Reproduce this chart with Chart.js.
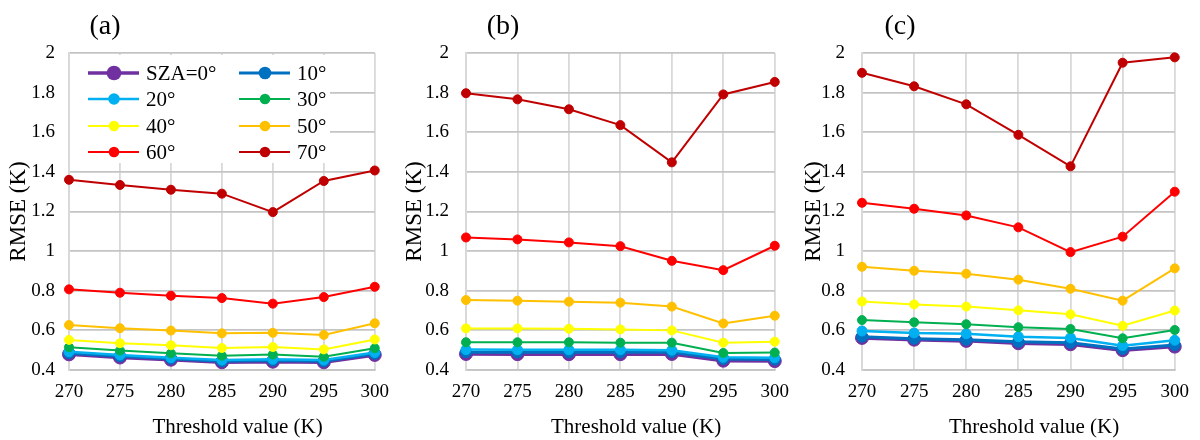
<!DOCTYPE html>
<html>
<head>
<meta charset="utf-8">
<script src="https://cdn.jsdelivr.net/npm/chart.js@4.4.0/dist/chart.umd.min.js"></script>
<style>
  body { margin: 0; background: #fff; }
  #wrap { display: flex; width: 1200px; height: 440px; }
  canvas { display: block; }
</style>
</head>
<body>
<div id="wrap">
  <canvas id="chartA" width="400" height="440"></canvas>
  <canvas id="chartB" width="400" height="440"></canvas>
  <canvas id="chartC" width="400" height="440"></canvas>
</div>
<script>
const thresholds = ['270', '275', '280', '285', '290', '295', '300'];
const szaLabels = ['SZA=0°', '10°', '20°', '30°', '40°', '50°', '60°', '70°'];
const szaColors = ['#7030A0', '#0070C0', '#00B0F0', '#00B050', '#FFFF00', '#FFC000', '#FF0000', '#C00000'];
const yTicks = [0.4, 0.6, 0.8, 1, 1.2, 1.4, 1.6, 1.8, 2];

// panel (a)
const a0 = [0.479, 0.463, 0.452, 0.439, 0.442, 0.439, 0.476];
const a10 = [0.485, 0.469, 0.457, 0.444, 0.448, 0.444, 0.482];
const a20 = [0.492, 0.476, 0.462, 0.450, 0.454, 0.450, 0.488];
const a30 = [0.515, 0.498, 0.484, 0.472, 0.478, 0.467, 0.510];
const a40 = [0.552, 0.535, 0.525, 0.511, 0.516, 0.504, 0.554];
const a50 = [0.627, 0.611, 0.599, 0.585, 0.588, 0.577, 0.636];
const a60 = [0.807, 0.790, 0.775, 0.763, 0.735, 0.768, 0.820];
const a70 = [1.360, 1.334, 1.310, 1.290, 1.197, 1.354, 1.407];

// panel (b)
const b0 = [0.481, 0.480, 0.480, 0.480, 0.481, 0.447, 0.445];
const b10 = [0.490, 0.489, 0.489, 0.489, 0.490, 0.455, 0.453];
const b20 = [0.503, 0.502, 0.502, 0.502, 0.500, 0.464, 0.462];
const b30 = [0.540, 0.540, 0.540, 0.538, 0.538, 0.486, 0.488];
const b40 = [0.610, 0.610, 0.608, 0.605, 0.600, 0.538, 0.543];
const b50 = [0.753, 0.750, 0.745, 0.740, 0.720, 0.635, 0.674];
const b60 = [1.069, 1.059, 1.044, 1.025, 0.951, 0.904, 1.027];
const b70 = [1.797, 1.766, 1.716, 1.636, 1.448, 1.791, 1.854];

// panel (c)
const c0 = [0.562, 0.553, 0.547, 0.535, 0.530, 0.500, 0.518];
const c10 = [0.568, 0.558, 0.553, 0.542, 0.537, 0.506, 0.526];
const c20 = [0.597, 0.587, 0.583, 0.568, 0.562, 0.523, 0.550];
const c30 = [0.652, 0.641, 0.631, 0.616, 0.607, 0.560, 0.602];
const c40 = [0.746, 0.731, 0.720, 0.701, 0.681, 0.623, 0.700];
const c50 = [0.921, 0.901, 0.886, 0.856, 0.810, 0.750, 0.913];
const c60 = [1.244, 1.214, 1.180, 1.120, 0.995, 1.073, 1.300];
const c70 = [1.900, 1.832, 1.741, 1.587, 1.428, 1.951, 1.978];

const pointSizes = [6.5, 5.5, 5, 4.5, 4.5, 4.5, 4.5, 4.5];
const lineSizes = [3.5, 3, 2.5, 2, 2, 2, 2, 2];
const serif = '"Liberation Serif", "Times New Roman", serif';

function panelTitlePlugin(text, dx) {
  return {
    id: 'panelTitle',
    afterDraw(chart) {
      const ctx = chart.ctx;
      ctx.save();
      ctx.font = '28px ' + serif;
      ctx.fillStyle = '#000';
      ctx.textAlign = 'center';
      ctx.textBaseline = 'middle';
      ctx.fillText(text, chart.chartArea.left + dx, 27);
      ctx.restore();
    }
  };
}

const legendPlugin = {
  id: 'boxLegend',
  afterDatasetsDraw(chart) {
    const ctx = chart.ctx;
    const left = chart.chartArea.left;
    const top = chart.chartArea.top;
    ctx.save();
    ctx.fillStyle = '#fff';
    ctx.fillRect(left + 1, top + 2, 260, 108);
    ctx.font = '21px ' + serif;
    ctx.textBaseline = 'middle';
    ctx.textAlign = 'left';
    const rows = [20, 46, 73, 99];
    szaLabels.forEach((label, i) => {
      const col = i % 2;
      const y = top + rows[Math.floor(i / 2)];
      const x0 = left + (col === 0 ? 19 : 170);
      ctx.strokeStyle = szaColors[i];
      ctx.lineWidth = lineSizes[i];
      ctx.beginPath();
      ctx.moveTo(x0, y);
      ctx.lineTo(x0 + 51, y);
      ctx.stroke();
      ctx.fillStyle = szaColors[i];
      ctx.beginPath();
      ctx.arc(x0 + 26, y, pointSizes[i] + 0.8, 0, Math.PI * 2);
      ctx.fill();
      ctx.fillStyle = '#000';
      ctx.fillText(label, x0 + 58, y + 1);
    });
    ctx.restore();
  }
};

function makePanel(canvasId, label, series, opts) {
  const datasets = series.map((values, i) => ({
    label: szaLabels[i],
    data: values,
    borderColor: szaColors[i],
    backgroundColor: szaColors[i],
    pointBackgroundColor: szaColors[i],
    pointBorderColor: szaColors[i],
    borderWidth: lineSizes[i],
    pointRadius: pointSizes[i],
    pointBorderWidth: 1,
    tension: 0,
    clip: false,
    order: 8 - i
  }));

  const plugins = [panelTitlePlugin(label, opts.titleDx)];
  if (opts.legend) plugins.push(legendPlugin);

  new Chart(document.getElementById(canvasId), {
    type: 'line',
    data: { labels: thresholds, datasets: datasets },
    plugins: plugins,
    options: {
      responsive: false,
      animation: false,
      devicePixelRatio: 1,
      layout: { padding: { top: 53, right: opts.rightPad, bottom: 0, left: 0 } },
      plugins: { legend: { display: false }, tooltip: { enabled: false } },
      scales: {
        x: {
          afterFit: scale => { scale.height = 70; },
          grid: { color: '#d9d9d9', lineWidth: 1.8, drawTicks: false },
          border: { color: '#c4c4c4', width: 1.8 },
          ticks: { color: '#000', padding: 11, font: { family: serif, size: 19 } },
          title: {
            display: true,
            text: '\u2003\u2002Threshold value (K)',
            color: '#000',
            font: { family: serif, size: 21 },
            padding: { top: 0, bottom: 0 }
          }
        },
        y: {
          min: 0.4,
          max: 2,
          afterFit: scale => { scale.width = opts.yWidth; },
          grid: { color: '#c4c4c4', lineWidth: 1.8, drawTicks: false },
          border: { color: '#d9d9d9', width: 1.8 },
          ticks: {
            stepSize: 0.1,
            color: '#000',
            padding: opts.tickPad,
            font: { family: serif, size: 19 },
            callback: function (value) {
              const tenth = Math.round(value * 10);
              return yTicks.includes(tenth / 10) ? String(tenth / 10) : '';
            }
          },
          title: {
            display: true,
            text: 'RMSE (K)',
            color: '#000',
            font: { family: serif, size: 23 },
            padding: { top: opts.titlePad, bottom: 0 }
          }
        }
      }
    }
  });
}

window.onload = function () {
  makePanel('chartA', '(a)', [a0, a10, a20, a30, a40, a50, a60, a70],
    { yWidth: 69, tickPad: 14, titlePad: 5, rightPad: 13, titleDx: 36, legend: true });
  makePanel('chartB', '(b)', [b0, b10, b20, b30, b40, b50, b60, b70],
    { yWidth: 66, tickPad: 17, titlePad: 1, rightPad: 17, titleDx: 37, legend: false });
  makePanel('chartC', '(c)', [c0, c10, c20, c30, c40, c50, c60, c70],
    { yWidth: 62, tickPad: 17, titlePad: 0, rightPad: 21, titleDx: 38, legend: false });
};
</script>
</body>
</html>
